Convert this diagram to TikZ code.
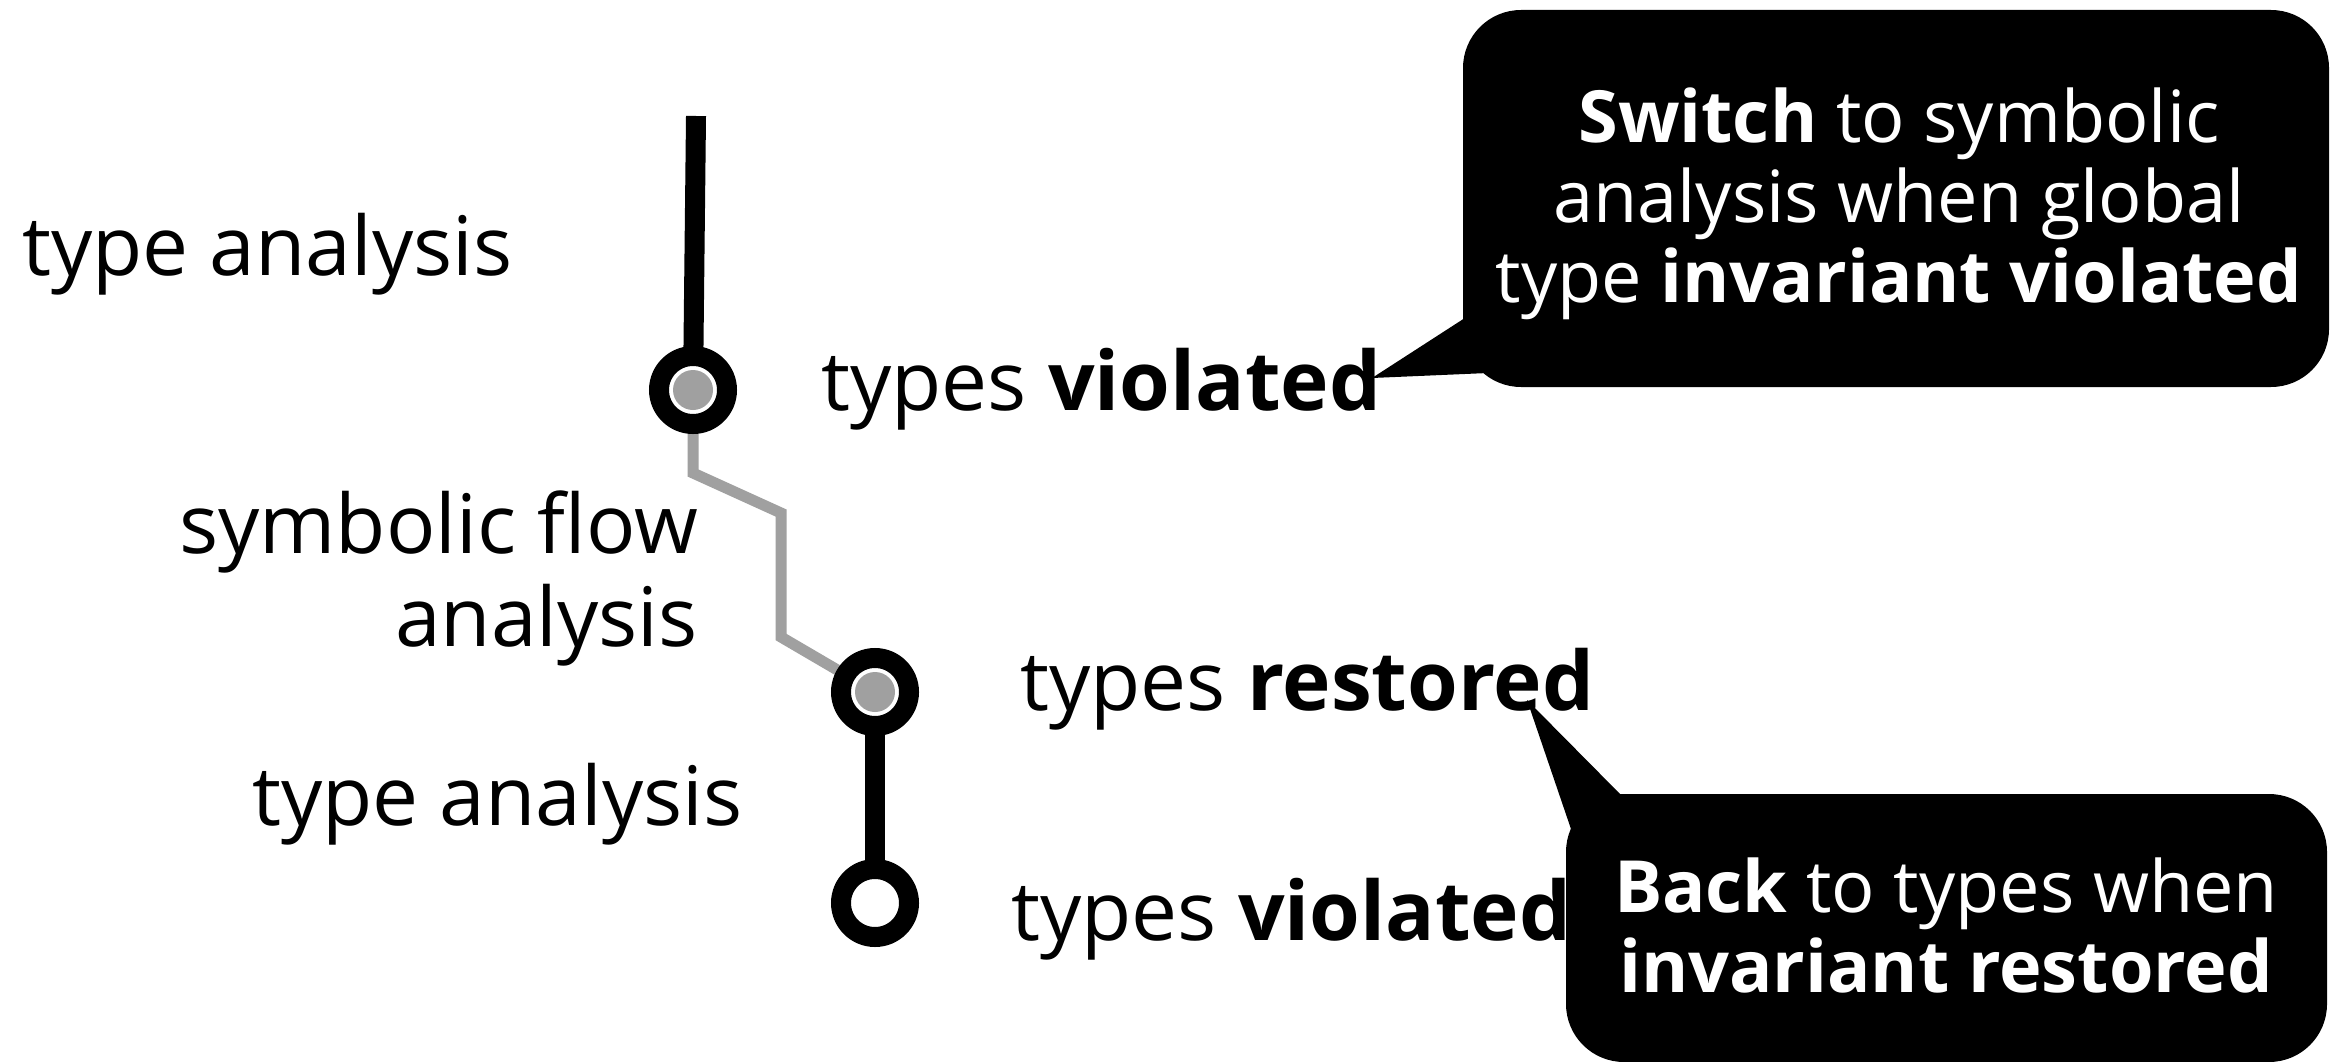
\documentclass[tikz,border=0pt]{standalone}
\usepackage{fontspec}
\setmainfont{Open Sans}
\usetikzlibrary{backgrounds}
\definecolor{graycol}{HTML}{A0A0A0}
\begin{document}
\begin{tikzpicture}[x=1pt,y=-1pt,
  lbl/.style={inner sep=0pt, font=\fontsize{82}{93}\selectfont},
  station/.style={circle, draw=black, line width=20pt, fill=white, minimum size=68pt, inner sep=0pt},
  symdot/.style={circle, fill=graycol, minimum size=40pt, inner sep=0pt},
  bubble/.style={fill=black, rounded corners=58pt, inner sep=0pt},
  btext/.style={text=white, align=center, inner sep=0pt, font=\fontsize{72}{80}\selectfont},
  typeline/.style={draw=black, line width=20pt},
  symline/.style={draw=graycol, line width=11pt, line join=miter}]
\path[use as bounding box] (0,0) rectangle (2331,1062);

% stations
\coordinate (top) at (696,116);
\node[station] (c1) at (693,390) {};
\node[symdot] (d1) at (c1) {};
\node[station] (c2) at (875,692) {};
\node[symdot] (d2) at (c2) {};
\node[station] (c3) at (875,903) {};

% labels
\node[lbl, anchor=base west] (ta1) at (22,275) {type analysis};
\node[lbl, anchor=base west] (tv1) at (821,410) {types \textbf{violated}};
\node[lbl, anchor=east, align=right] (sfa) at (698,578) {symbolic flow\\analysis};
\node[lbl, anchor=base west] (tr) at (1020,710) {types \textbf{restored}};
\node[lbl, anchor=base west] (ta2) at (252,825) {type analysis};
\node[lbl, anchor=base west] (tv2) at (1011,940) {types \textbf{violated}};

% bubble 1
\coordinate (tip1) at (1372,378);
\node[bubble, minimum width=866pt, minimum height=377pt] (b1) at (1896,198.5) {};
\fill[black] (1468,316) -- (tip1) -- (1488,373) -- cycle;
\node[btext] (b1t) at (1899,204) {\textbf{Switch} to symbolic\\analysis when global\\type \textbf{invariant violated}};

% bubble 2
\coordinate (tip2) at (1527,700);
\node[bubble, minimum width=761pt, minimum height=268pt] (b2) at (1946.5,928) {};
\fill[black] (1572,832) -- (tip2) -- (1622,796) -- cycle;
\node[btext] (b2t) at (1946,925.5) {\textbf{Back} to types when\\\textbf{invariant restored}};

% connectors
\begin{scope}[on background layer]
\fill[white] (0,0) rectangle (2331,1062);
\draw[typeline] (top) -- (c1.center);
\draw[symline] (c1.center) -- (693,473) -- (781,513) -- (781,637) -- (c2.center);
\draw[typeline] (c2.center) -- (c3.center);
\end{scope}
\end{tikzpicture}
\end{document}
